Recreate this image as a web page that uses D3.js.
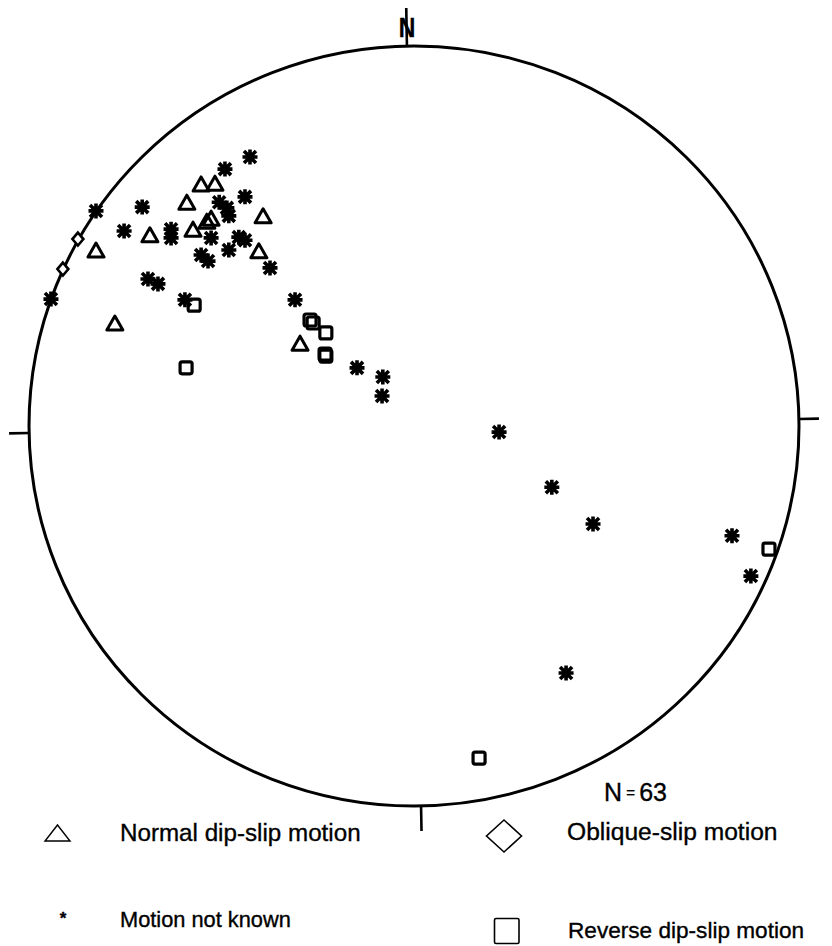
<!DOCTYPE html>
<html>
<head>
<meta charset="utf-8">
<script src="https://cdn.jsdelivr.net/npm/d3@7"></script>
<style>
  body { margin: 0; background: #fff; }
  text { font-family: "Liberation Sans", Arial, Helvetica, sans-serif; fill: #000; stroke: #000; stroke-width: 0.35; }
</style>
</head>
<body>
<svg id="net"></svg>
<script>
var notKnown = [
  [-42.6, 70.8], [-49.1, 67.6], [-43.9, 60.3], [-70.6, 57.6], [-82.6, 56.6],
  [-50.6, 58.9], [-48.6, 57.4], [-48.1, 55.3], [-75.3, 51.3], [-63.1, 51.8],
  [-63.1, 49.5], [-52.7, 49.5], [-45.5, 49.7], [-43.9, 48.9], [-48.1, 46.3],
  [-55.3, 45.0], [-53.5, 43.4], [-37.4, 41.6], [-69.1, 38.7], [-66.5, 37.4],
  [-94.3, 33.4], [-59.5, 33.2], [-30.9, 33.2], [-14.8, 15.3], [-8.1, 12.9],
  [-8.3, 7.9], [22.1, -1.6], [35.8, -16.1], [46.5, -25.8], [82.6, -28.9],
  [87.5, -39.5], [39.5, -65.0]
];
var normalSlip = [
  [-55.3, 63.7], [-51.7, 63.9], [-59.0, 58.9], [-53.8, 53.9], [-52.7, 54.7],
  [-39.2, 55.3], [-68.6, 50.3], [-57.4, 51.8], [-82.6, 46.3], [-40.3, 46.1],
  [-77.7, 27.1], [-29.6, 21.8]
];
var obliqueSlip = [
  [-87.3, 49.2], [-91.2, 41.3]
];
var reverseSlip = [
  [-57.1, 31.8], [-27.0, 27.9], [-26.2, 27.1], [-22.9, 24.5], [-23.1, 18.9],
  [-22.9, 18.4], [-59.2, 15.3], [92.2, -32.4], [16.9, -87.4]
];
var sampleCount = 63;
var compassAz = [0, 90, 180, 270];
var legendLabels = ["Normal dip-slip motion", "Oblique-slip motion", "Motion not known", "Reverse dip-slip motion"];

var svgW = 832, svgH = 946;
var cx = 414, cy = 426, rx = 385, ry = 380;
var scanTilt = -1.05; // the scanned net is turned a little

var svg = d3.select("#net")
  .attr("width", svgW)
  .attr("height", svgH);

var xScale = d3.scaleLinear().domain([-100, 100]).range([cx - rx, cx + rx]);
var yScale = d3.scaleLinear().domain([-100, 100]).range([cy + ry, cy - ry]);

// primitive circle
svg.append("ellipse")
  .attr("cx", xScale(0))
  .attr("cy", yScale(0))
  .attr("rx", xScale(100) - xScale(0))
  .attr("ry", yScale(-100) - yScale(0))
  .attr("fill", "none")
  .attr("stroke", "#000")
  .attr("stroke-width", 3);

// compass ticks
var tickOut = [38, 20, 25, 20];
svg.selectAll("line.tick")
  .data(compassAz)
  .enter()
  .append("line")
  .attr("class", "tick")
  .each(function(az, i){
    var a = (az + scanTilt) * Math.PI / 180;
    var sx = Math.sin(a), sy = Math.cos(a);
    var x1 = xScale(100 * sx), y1 = yScale(100 * sy);
    d3.select(this)
      .attr("x1", x1).attr("y1", y1)
      .attr("x2", x1 + sx * tickOut[i]).attr("y2", y1 - sy * tickOut[i]);
  })
  .attr("stroke", "#000")
  .attr("stroke-width", 2.6);

svg.append("text")
  .attr("x", 407)
  .attr("y", 37)
  .attr("text-anchor", "middle")
  .attr("font-size", 27)
  .attr("font-weight", "bold")
  .attr("transform", "translate(407,0) scale(0.85,1) translate(-407,0)")
  .text("N");

// symbol shapes
var starPath = "M-6,-6L6,6M6,-6L-6,6M0,-7.5L0,7.5M-7.5,0L7.5,0";
var triPath = "M0,-7L8,7L-8,7Z";
var diaPath = "M0,-6.5L5.5,0L0,6.5L-5.5,0Z";

var points = svg.append("g").attr("id", "points");

var stars = points.selectAll("g.star")
  .data(notKnown)
  .enter()
  .append("g")
  .attr("class", "star")
  .attr("transform", function(d){ return "translate(" + xScale(d[0]) + "," + yScale(d[1]) + ")"; });
stars.append("path")
  .attr("d", starPath)
  .attr("stroke", "#000")
  .attr("stroke-width", 3.6)
  .attr("fill", "none");
stars.append("circle")
  .attr("r", 4.4)
  .attr("fill", "#000");

points.selectAll("path.tri")
  .data(normalSlip)
  .enter()
  .append("path")
  .attr("class", "tri")
  .attr("d", triPath)
  .attr("transform", function(d){ return "translate(" + xScale(d[0]) + "," + yScale(d[1]) + ")"; })
  .attr("fill", "none")
  .attr("stroke", "#000")
  .attr("stroke-width", 3)
  .attr("stroke-linejoin", "round");

points.selectAll("path.dia")
  .data(obliqueSlip)
  .enter()
  .append("path")
  .attr("class", "dia")
  .attr("d", diaPath)
  .attr("transform", function(d){ return "translate(" + xScale(d[0]) + "," + yScale(d[1]) + ")"; })
  .attr("fill", "#fff")
  .attr("stroke", "#000")
  .attr("stroke-width", 2.6);

points.selectAll("rect.sq")
  .data(reverseSlip)
  .enter()
  .append("rect")
  .attr("class", "sq")
  .attr("x", function(d){ return xScale(d[0]) - 6; })
  .attr("y", function(d){ return yScale(d[1]) - 6; })
  .attr("width", 12)
  .attr("height", 12)
  .attr("rx", 2)
  .attr("fill", "none")
  .attr("stroke", "#000")
  .attr("stroke-width", 3.2);

// N = 63
var nText = svg.append("text")
  .attr("x", 604)
  .attr("y", 801)
  .attr("font-size", 25);
nText.append("tspan").text("N");
nText.append("tspan").attr("font-size", 15).attr("dy", -3).text(" = ");
nText.append("tspan").attr("dy", 3).text(sampleCount);

// legend
var legend = svg.append("g").attr("id", "legend");

legend.append("path")
  .attr("d", "M57.5,825L70,841L45,841Z")
  .attr("fill", "none")
  .attr("stroke", "#000")
  .attr("stroke-width", 1.4);
legend.append("path")
  .attr("d", "M504,820L521.5,836L504,852L486.5,836Z")
  .attr("fill", "none")
  .attr("stroke", "#000")
  .attr("stroke-width", 1.6);
legend.append("text")
  .attr("x", 63)
  .attr("y", 924)
  .attr("text-anchor", "middle")
  .attr("font-size", 17)
  .attr("font-weight", "bold")
  .text("*");
legend.append("rect")
  .attr("x", 494.5)
  .attr("y", 918.5)
  .attr("width", 24.5)
  .attr("height", 25)
  .attr("rx", 1.5)
  .attr("fill", "none")
  .attr("stroke", "#000")
  .attr("stroke-width", 1.6);

var legendPos = [[120, 841, 24.2], [567, 840, 24.6], [120, 927, 21.8], [568, 938, 22.6]];
legend.selectAll("text.lab")
  .data(legendLabels)
  .enter()
  .append("text")
  .attr("class", "lab")
  .attr("x", function(d, i){ return legendPos[i][0]; })
  .attr("y", function(d, i){ return legendPos[i][1]; })
  .attr("font-size", function(d, i){ return legendPos[i][2]; })
  .text(function(d){ return d; });
</script>
</body>
</html>
